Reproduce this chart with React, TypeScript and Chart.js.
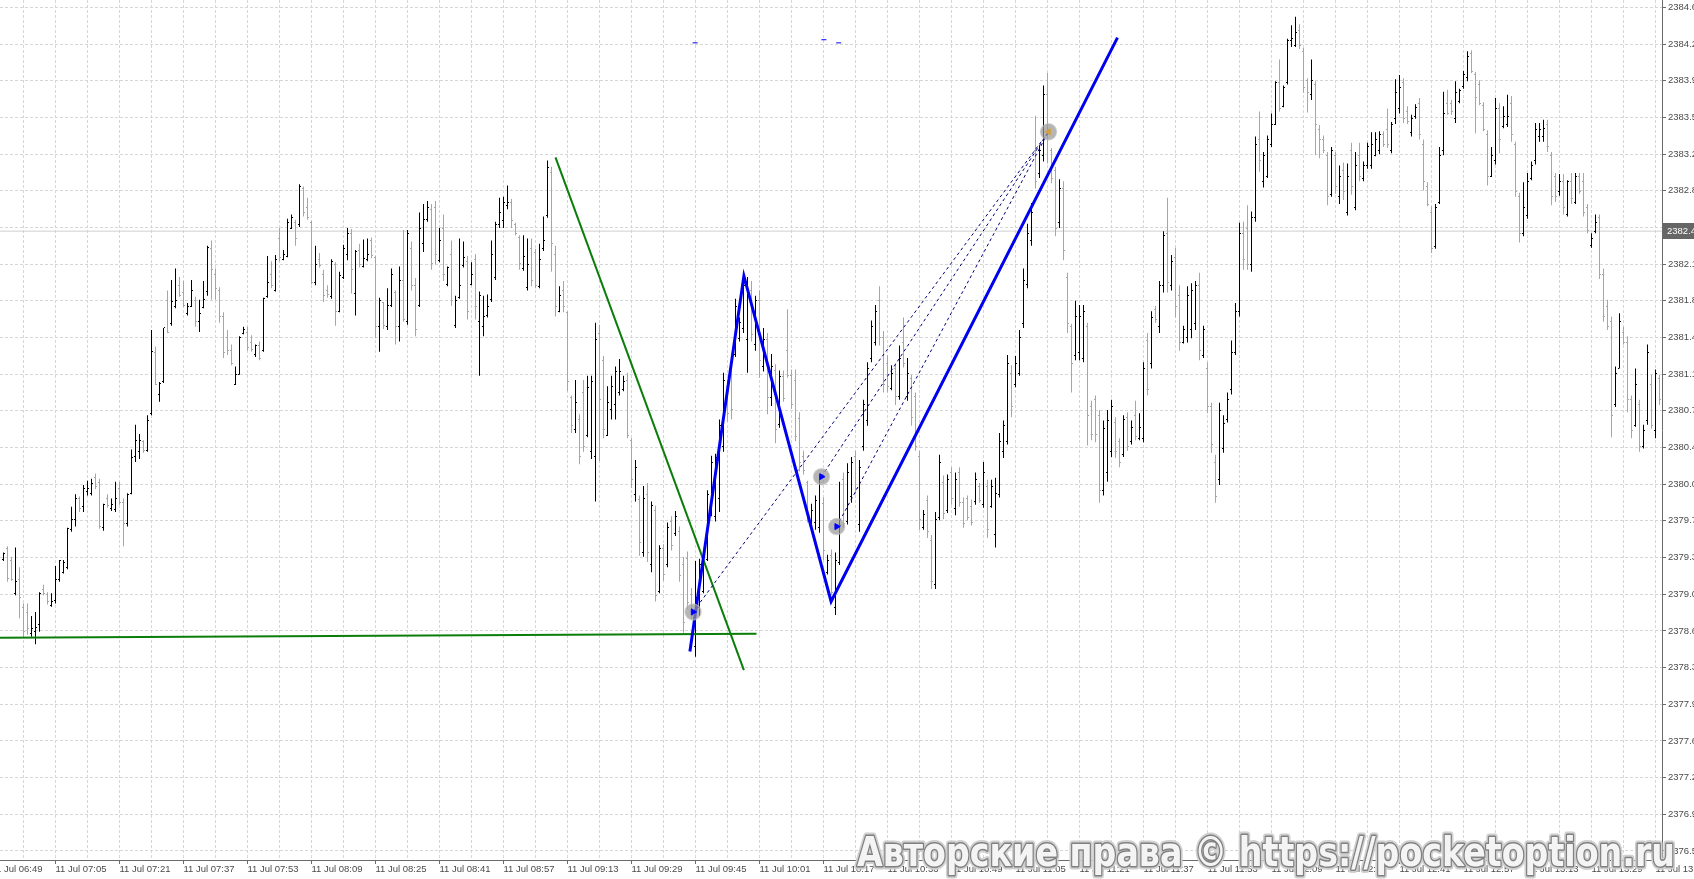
import React, { useEffect, useRef } from "react";
import { Chart, registerables } from "chart.js";

Chart.register(...registerables);

// minutes after 11 Jul 06:49 of the first bar
const FIRST_MINUTE = 3;

const OPEN = [
  2379.31, 2379.42, 2379.30, 2378.99, 2379.12, 2378.85, 2378.80, 2378.60, 2378.62, 2378.69,
  2379.03, 2378.98, 2378.87, 2378.92, 2379.12, 2379.19, 2379.24, 2379.60, 2379.70, 2379.90,
  2379.82, 2379.97, 2379.95, 2380.10, 2380.05, 2379.62, 2379.90, 2379.80, 2379.79, 2380.00,
  2379.86, 2379.66, 2379.95, 2380.30, 2380.35, 2380.45, 2380.36, 2380.72, 2381.30, 2380.90,
  2381.02, 2381.80, 2381.58, 2381.75, 2381.95, 2381.88, 2381.68, 2381.75, 2381.80, 2381.60,
  2381.74, 2381.89, 2382.30, 2382.05, 2381.90, 2381.65, 2381.45, 2381.32, 2381.00, 2381.09,
  2381.49, 2381.50, 2381.40, 2381.28, 2381.37, 2381.32, 2381.84, 2382.05, 2381.90, 2382.40,
  2382.20, 2382.23, 2382.50, 2382.55, 2382.53, 2382.88, 2382.70, 2382.55, 2381.98, 2382.20,
  2382.05, 2381.90, 2381.84, 2382.15, 2381.70, 2382.02, 2382.25, 2382.45, 2381.87, 2382.28,
  2382.13, 2382.20, 2382.38, 2382.22, 2381.55, 2381.78, 2381.55, 2381.76, 2381.88, 2381.55,
  2382.00, 2381.60, 2382.30, 2381.95, 2381.76, 2382.35, 2382.58, 2382.68, 2382.70, 2382.19,
  2382.50, 2381.96, 2382.25, 2381.56, 2381.83, 2382.14, 2382.18, 2381.96, 2382.20, 2381.60,
  2381.55, 2381.66, 2381.81, 2382.02, 2382.53, 2382.57, 2382.72, 2382.75, 2382.53, 2382.41,
  2382.11, 2381.93, 2382.30, 2382.26, 2381.94, 2382.30, 2382.62, 2383.03, 2382.25, 2381.70,
  2381.90, 2381.69, 2380.87, 2380.56, 2380.66, 2380.92, 2380.51, 2380.35, 2380.30, 2381.49,
  2381.23, 2380.51, 2380.76, 2380.80, 2380.92, 2380.95, 2381.03, 2380.46, 2379.94, 2379.89,
  2379.38, 2379.94, 2379.27, 2379.78, 2379.01, 2379.42, 2379.27, 2379.68, 2379.56, 2379.58,
  2379.27, 2379.32, 2378.98, 2378.48, 2378.85, 2379.01, 2379.31, 2379.79, 2379.73, 2379.90,
  2380.40, 2380.98, 2381.07, 2381.28, 2381.44, 2381.53, 2381.43, 2381.90, 2381.38, 2381.80,
  2381.17, 2381.43, 2380.87, 2381.13, 2380.61, 2381.07, 2381.32, 2381.08, 2381.03, 2380.67,
  2380.30, 2380.05, 2379.63, 2379.67, 2379.62, 2379.85, 2379.19, 2379.35, 2378.85, 2379.28,
  2380.08, 2379.68, 2379.92, 2380.30, 2379.65, 2380.40, 2380.65, 2381.25, 2381.40, 2381.80,
  2381.45, 2381.20, 2380.96, 2381.15, 2380.88, 2381.40, 2380.88, 2381.05, 2380.88, 2380.30,
  2379.62, 2379.88, 2379.50, 2379.07, 2379.72, 2380.05, 2379.78, 2380.15, 2379.80, 2380.15,
  2379.86, 2379.90, 2379.82, 2379.87, 2380.02, 2379.84, 2380.02, 2379.82, 2379.55, 2379.94,
  2380.35, 2380.45, 2381.10, 2381.00, 2381.10, 2381.58, 2381.96, 2382.38, 2383.25, 2383.02,
  2383.20, 2383.78, 2383.25, 2383.05, 2382.55, 2382.88, 2382.02, 2381.55, 2381.27, 2381.30,
  2381.25, 2381.55, 2380.78, 2380.85, 2380.70, 2379.98, 2380.15, 2380.35, 2380.63, 2380.45,
  2380.32, 2380.68, 2380.45, 2380.70, 2380.48, 2380.48, 2381.42, 2381.20, 2381.72, 2381.55,
  2381.95, 2382.45, 2381.95, 2382.22, 2381.85, 2381.40, 2381.45, 2381.52, 2381.58, 2381.95,
  2381.27, 2381.15, 2380.78, 2380.25, 2380.08, 2380.38, 2380.66, 2380.95, 2381.30, 2381.70,
  2382.45, 2382.50, 2382.15, 2382.60, 2383.35, 2382.95, 2383.00, 2383.30, 2383.50, 2383.90,
  2383.67, 2383.90, 2384.30, 2384.25, 2384.40, 2384.20, 2383.92, 2383.78, 2383.88, 2383.45,
  2383.35, 2383.20, 2382.82, 2383.20, 2382.80, 2383.05, 2382.65, 2383.25, 2382.70, 2383.20,
  2382.98, 2383.10, 2383.10, 2383.20, 2383.25, 2383.40, 2383.45, 2383.25, 2383.55, 2383.65,
  2383.90, 2383.62, 2383.42, 2383.57, 2383.70, 2383.30, 2382.90, 2382.65, 2382.32, 2382.75,
  2383.25, 2383.70, 2383.70, 2383.55, 2383.72, 2383.86, 2383.95, 2384.18, 2383.98, 2383.88,
  2383.68, 2383.40, 2383.00, 2383.15, 2383.65, 2383.48, 2383.50, 2383.70, 2383.30, 2382.80,
  2382.45, 2382.62, 2382.98, 2383.15, 2383.38, 2383.38, 2383.50, 2383.20, 2383.00, 2382.85,
  2382.95, 2382.63, 2382.95, 2382.75, 2383.00, 2382.95, 2382.70, 2382.33, 2382.47, 2382.60,
  2382.05, 2381.75, 2381.60, 2380.80, 2381.15, 2381.50, 2381.40, 2380.85, 2380.60, 2380.80,
  2380.40, 2380.65, 2381.00, 2380.55, 2381.05,
];

const HIGH = [
  2379.38, 2379.44, 2379.34, 2379.43, 2379.24, 2378.89, 2378.89, 2378.77, 2378.81, 2379.00,
  2379.07, 2379.00, 2378.99, 2379.25, 2379.31, 2379.31, 2379.62, 2379.82, 2379.94, 2379.92,
  2380.03, 2380.07, 2380.09, 2380.14, 2380.09, 2379.85, 2379.94, 2379.90, 2380.06, 2380.06,
  2379.90, 2379.95, 2380.37, 2380.61, 2380.52, 2380.46, 2380.70, 2381.52, 2381.36, 2381.02,
  2381.54, 2381.90, 2382.00, 2382.11, 2382.03, 2381.99, 2381.78, 2382.00, 2381.84, 2381.81,
  2381.99, 2382.33, 2382.38, 2382.11, 2381.93, 2381.69, 2381.52, 2381.38, 2381.17, 2381.46,
  2381.55, 2381.55, 2381.47, 2381.38, 2381.41, 2381.83, 2382.23, 2382.18, 2382.24, 2382.50,
  2382.29, 2382.59, 2382.63, 2382.58, 2382.92, 2382.90, 2382.79, 2382.57, 2382.33, 2382.26,
  2382.10, 2381.95, 2382.20, 2382.17, 2382.08, 2382.34, 2382.50, 2382.49, 2382.29, 2382.35,
  2382.39, 2382.40, 2382.41, 2382.23, 2381.83, 2381.79, 2381.92, 2382.11, 2381.90, 2382.13,
  2382.48, 2382.48, 2382.37, 2382.02, 2382.65, 2382.73, 2382.76, 2382.73, 2382.76, 2382.50,
  2382.63, 2382.13, 2382.38, 2381.85, 2382.40, 2382.37, 2382.23, 2382.17, 2382.25, 2381.89,
  2381.85, 2381.86, 2382.38, 2382.56, 2382.79, 2382.80, 2382.91, 2382.78, 2382.55, 2382.43,
  2382.43, 2382.40, 2382.40, 2382.30, 2382.35, 2382.61, 2383.15, 2383.09, 2382.33, 2381.94,
  2381.99, 2381.70, 2380.89, 2381.04, 2380.71, 2381.04, 2381.08, 2381.08, 2381.59, 2381.57,
  2381.27, 2380.98, 2381.08, 2381.17, 2381.24, 2381.08, 2381.11, 2380.48, 2380.27, 2379.93,
  2380.02, 2380.05, 2379.87, 2379.83, 2379.45, 2379.46, 2379.67, 2379.73, 2379.78, 2379.63,
  2379.34, 2379.39, 2379.04, 2379.30, 2379.32, 2379.32, 2379.98, 2380.31, 2380.33, 2380.66,
  2381.11, 2381.04, 2381.14, 2381.82, 2381.64, 2382.05, 2382.03, 2381.99, 2381.85, 2381.90,
  2381.54, 2381.49, 2381.29, 2381.19, 2381.13, 2381.13, 2381.72, 2381.14, 2381.14, 2380.73,
  2380.36, 2380.07, 2379.85, 2379.93, 2380.13, 2379.91, 2379.36, 2379.41, 2379.38, 2380.06,
  2380.15, 2380.24, 2380.30, 2380.36, 2380.27, 2380.85, 2381.21, 2381.61, 2381.76, 2381.94,
  2381.51, 2381.28, 2381.18, 2381.20, 2381.37, 2381.64, 2381.25, 2381.09, 2380.92, 2380.36,
  2379.79, 2379.93, 2379.55, 2379.77, 2380.32, 2380.12, 2380.13, 2380.20, 2380.15, 2380.20,
  2379.91, 2379.93, 2379.89, 2380.15, 2380.05, 2380.25, 2380.08, 2380.08, 2380.10, 2380.53,
  2380.65, 2381.28, 2381.18, 2381.27, 2381.52, 2382.11, 2382.54, 2382.74, 2383.58, 2383.29,
  2383.87, 2383.99, 2383.27, 2383.09, 2382.97, 2382.95, 2382.07, 2381.58, 2381.80, 2381.76,
  2381.76, 2381.59, 2380.84, 2380.89, 2380.75, 2380.65, 2380.75, 2380.85, 2380.68, 2380.48,
  2380.70, 2380.73, 2380.65, 2380.84, 2380.72, 2381.21, 2381.49, 2381.70, 2381.75, 2381.99,
  2382.47, 2382.79, 2382.24, 2382.31, 2381.95, 2381.56, 2381.94, 2381.97, 2381.99, 2382.07,
  2381.56, 2381.21, 2380.82, 2380.32, 2380.82, 2380.70, 2380.92, 2381.42, 2381.78, 2382.55,
  2382.56, 2382.72, 2382.66, 2383.38, 2383.62, 2383.23, 2383.39, 2383.60, 2383.91, 2384.12,
  2383.87, 2384.32, 2384.45, 2384.53, 2384.46, 2384.23, 2383.94, 2384.12, 2383.91, 2383.49,
  2383.39, 2383.23, 2383.28, 2383.23, 2383.10, 2383.13, 2383.12, 2383.32, 2383.23, 2383.32,
  2383.14, 2383.32, 2383.42, 2383.42, 2383.43, 2383.43, 2383.65, 2383.52, 2383.93, 2383.97,
  2383.94, 2383.67, 2383.59, 2383.69, 2383.75, 2383.35, 2382.94, 2382.71, 2382.73, 2383.28,
  2383.81, 2383.83, 2383.73, 2383.91, 2383.84, 2384.01, 2384.20, 2384.21, 2384.00, 2383.92,
  2383.71, 2383.44, 2383.28, 2383.75, 2383.70, 2383.67, 2383.78, 2383.77, 2383.33, 2382.84,
  2382.94, 2383.03, 2383.14, 2383.51, 2383.51, 2383.54, 2383.54, 2383.23, 2383.03, 2383.02,
  2383.02, 2382.96, 2383.03, 2383.03, 2383.03, 2383.03, 2382.73, 2382.45, 2382.63, 2382.63,
  2382.11, 2381.81, 2381.65, 2381.17, 2381.68, 2381.55, 2381.46, 2380.89, 2381.15, 2380.85,
  2380.61, 2381.38, 2381.09, 2381.14, 2381.09,
];

const LOW = [
  2379.30, 2379.10, 2379.11, 2378.97, 2378.75, 2378.56, 2378.59, 2378.57, 2378.50, 2378.62,
  2378.97, 2378.88, 2378.86, 2378.89, 2379.10, 2379.18, 2379.22, 2379.58, 2379.63, 2379.77,
  2379.77, 2379.93, 2379.93, 2379.99, 2379.61, 2379.59, 2379.81, 2379.78, 2379.77, 2379.84,
  2379.44, 2379.63, 2379.94, 2380.25, 2380.28, 2380.34, 2380.35, 2380.70, 2380.99, 2380.83,
  2381.01, 2381.49, 2381.56, 2381.73, 2381.84, 2381.74, 2381.66, 2381.74, 2381.55, 2381.50,
  2381.73, 2381.85, 2381.81, 2381.81, 2381.59, 2381.25, 2381.28, 2381.18, 2380.99, 2381.09,
  2381.48, 2381.32, 2381.31, 2381.26, 2381.23, 2381.31, 2381.83, 2381.92, 2381.89, 2382.18,
  2382.19, 2382.22, 2382.49, 2382.33, 2382.51, 2382.61, 2382.58, 2381.96, 2381.95, 2382.12,
  2381.79, 2381.83, 2381.82, 2381.56, 2381.69, 2382.01, 2382.19, 2381.87, 2381.66, 2382.12,
  2382.12, 2382.18, 2382.21, 2381.44, 2381.31, 2381.53, 2381.52, 2381.74, 2381.38, 2381.41,
  2381.60, 2381.57, 2381.90, 2381.46, 2381.74, 2382.27, 2382.56, 2382.10, 2382.15, 2382.17,
  2381.99, 2381.94, 2381.75, 2381.54, 2381.82, 2382.12, 2381.62, 2381.95, 2381.62, 2381.08,
  2381.46, 2381.64, 2381.79, 2382.00, 2382.50, 2382.50, 2382.68, 2382.50, 2382.43, 2382.10,
  2382.09, 2381.90, 2381.94, 2381.92, 2381.92, 2382.28, 2382.60, 2382.08, 2381.65, 2381.69,
  2381.69, 2380.93, 2380.53, 2380.53, 2380.23, 2380.35, 2380.49, 2380.28, 2379.87, 2380.26,
  2380.48, 2380.50, 2380.66, 2380.66, 2380.89, 2380.93, 2380.48, 2380.00, 2379.87, 2379.35,
  2379.34, 2379.29, 2379.19, 2378.91, 2378.99, 2379.11, 2379.24, 2379.40, 2379.54, 2379.10,
  2378.61, 2378.84, 2378.74, 2378.38, 2378.77, 2378.99, 2379.30, 2379.73, 2379.68, 2379.77,
  2380.35, 2380.64, 2380.66, 2381.26, 2381.41, 2381.49, 2381.11, 2381.41, 2381.32, 2381.06,
  2381.12, 2380.71, 2380.79, 2380.43, 2380.58, 2380.83, 2381.06, 2380.76, 2380.45, 2380.16,
  2380.13, 2379.67, 2379.59, 2379.60, 2379.57, 2379.31, 2379.17, 2378.97, 2378.78, 2379.26,
  2379.62, 2379.65, 2379.86, 2379.94, 2379.58, 2380.36, 2380.60, 2381.21, 2381.37, 2381.37,
  2380.92, 2380.92, 2380.94, 2380.80, 2380.85, 2381.16, 2380.84, 2380.60, 2380.36, 2379.60,
  2379.60, 2379.52, 2379.03, 2379.03, 2379.69, 2379.70, 2379.76, 2379.84, 2379.74, 2379.82,
  2379.62, 2379.69, 2379.64, 2379.84, 2379.86, 2379.81, 2379.52, 2379.81, 2379.43, 2379.91,
  2380.29, 2380.42, 2380.68, 2380.97, 2381.08, 2381.54, 2381.92, 2382.33, 2382.88, 2382.98,
  2383.14, 2383.12, 2382.93, 2382.42, 2382.50, 2382.19, 2381.49, 2380.92, 2381.23, 2381.23,
  2381.21, 2380.41, 2380.46, 2380.44, 2379.86, 2379.93, 2380.06, 2380.30, 2380.29, 2380.20,
  2380.30, 2380.36, 2380.42, 2380.46, 2380.46, 2380.44, 2380.89, 2381.15, 2381.59, 2381.49,
  2381.88, 2381.88, 2381.90, 2381.64, 2381.32, 2381.39, 2381.40, 2381.44, 2381.52, 2381.23,
  2381.25, 2380.72, 2380.34, 2379.86, 2380.03, 2380.34, 2380.63, 2380.90, 2381.28, 2381.65,
  2382.10, 2382.10, 2382.08, 2382.56, 2383.04, 2382.89, 2382.98, 2383.28, 2383.49, 2383.62,
  2383.66, 2383.88, 2384.24, 2384.24, 2384.22, 2383.80, 2383.61, 2383.73, 2383.20, 2383.17,
  2383.22, 2382.72, 2382.80, 2382.83, 2382.73, 2382.77, 2382.62, 2382.82, 2382.67, 2382.95,
  2382.95, 2383.07, 2383.07, 2383.19, 2383.21, 2383.28, 2383.27, 2383.22, 2383.50, 2383.60,
  2383.51, 2383.50, 2383.38, 2383.55, 2383.35, 2382.86, 2382.71, 2382.26, 2382.30, 2382.73,
  2383.20, 2383.59, 2383.59, 2383.51, 2383.70, 2383.84, 2383.91, 2383.99, 2383.41, 2383.68,
  2383.43, 2382.91, 2382.99, 2383.11, 2383.22, 2383.46, 2383.47, 2383.33, 2382.80, 2382.36,
  2382.42, 2382.59, 2382.96, 2383.11, 2383.33, 2383.33, 2383.23, 2382.72, 2382.75, 2382.81,
  2382.63, 2382.61, 2382.73, 2382.73, 2382.83, 2382.61, 2382.45, 2382.31, 2382.45, 2382.01,
  2381.60, 2381.52, 2380.49, 2380.78, 2381.15, 2381.38, 2380.73, 2380.48, 2380.59, 2380.35,
  2380.38, 2380.61, 2380.57, 2380.48, 2380.80,
];

const CLOSE = [
  2379.37, 2379.13, 2379.12, 2379.10, 2378.95, 2378.62, 2378.65, 2378.65, 2378.66, 2378.99,
  2378.99, 2378.91, 2378.91, 2379.12, 2379.30, 2379.28, 2379.61, 2379.70, 2379.90, 2379.80,
  2380.00, 2380.00, 2380.04, 2380.02, 2379.63, 2379.84, 2379.83, 2379.84, 2379.90, 2379.86,
  2379.66, 2379.94, 2380.29, 2380.46, 2380.46, 2380.36, 2380.65, 2381.31, 2381.00, 2381.01,
  2381.54, 2381.50, 2381.79, 2381.80, 2381.85, 2381.76, 2381.75, 2381.90, 2381.60, 2381.68,
  2381.81, 2382.31, 2382.10, 2381.92, 2381.65, 2381.30, 2381.32, 2381.20, 2381.09, 2381.45,
  2381.52, 2381.35, 2381.33, 2381.37, 2381.25, 2381.82, 2381.98, 2381.95, 2382.20, 2382.22,
  2382.25, 2382.55, 2382.60, 2382.40, 2382.90, 2382.65, 2382.60, 2381.98, 2382.15, 2382.14,
  2381.85, 2381.86, 2382.18, 2381.70, 2382.04, 2382.30, 2382.45, 2382.10, 2382.27, 2382.15,
  2382.21, 2382.25, 2382.24, 2381.55, 2381.80, 2381.56, 2381.76, 2382.05, 2381.55, 2382.00,
  2381.62, 2382.45, 2381.95, 2381.52, 2382.50, 2382.58, 2382.70, 2382.16, 2382.25, 2382.38,
  2382.05, 2382.12, 2381.80, 2381.80, 2381.95, 2382.22, 2381.70, 2382.05, 2381.75, 2381.85,
  2381.65, 2381.75, 2382.25, 2382.53, 2382.65, 2382.75, 2382.75, 2382.57, 2382.45, 2382.16,
  2382.23, 2382.15, 2382.00, 2381.95, 2382.20, 2382.38, 2383.08, 2382.35, 2381.75, 2381.85,
  2381.75, 2381.02, 2380.60, 2380.82, 2380.30, 2380.40, 2380.97, 2381.02, 2381.43, 2380.85,
  2380.56, 2380.82, 2380.98, 2381.12, 2381.12, 2381.02, 2380.51, 2380.08, 2380.20, 2379.48,
  2379.90, 2379.38, 2379.83, 2378.97, 2379.42, 2379.17, 2379.62, 2379.45, 2379.73, 2379.16,
  2378.71, 2378.90, 2378.78, 2378.95, 2379.27, 2379.29, 2379.94, 2380.25, 2380.29, 2380.60,
  2381.03, 2380.72, 2380.76, 2381.75, 2381.59, 2381.95, 2381.90, 2381.48, 2381.80, 2381.23,
  2381.43, 2380.87, 2381.17, 2380.56, 2381.07, 2380.86, 2381.08, 2380.80, 2380.50, 2380.25,
  2380.17, 2379.73, 2379.78, 2379.88, 2380.09, 2379.40, 2379.30, 2379.00, 2379.30, 2379.64,
  2379.66, 2380.15, 2380.25, 2380.00, 2380.20, 2380.80, 2381.15, 2381.55, 2381.70, 2381.45,
  2381.00, 2380.98, 2381.10, 2380.88, 2381.25, 2381.20, 2381.10, 2380.68, 2380.40, 2379.70,
  2379.75, 2379.58, 2379.10, 2379.70, 2380.25, 2379.76, 2380.08, 2379.90, 2380.08, 2379.86,
  2379.66, 2379.72, 2379.67, 2380.08, 2379.88, 2380.15, 2379.60, 2380.02, 2379.95, 2380.45,
  2380.60, 2381.20, 2380.78, 2381.20, 2381.45, 2382.00, 2382.45, 2382.65, 2382.95, 2383.25,
  2383.78, 2383.45, 2382.98, 2382.50, 2382.88, 2382.28, 2381.58, 2381.20, 2381.65, 2381.65,
  2381.70, 2380.70, 2380.52, 2380.52, 2379.98, 2380.57, 2380.65, 2380.78, 2380.35, 2380.25,
  2380.66, 2380.40, 2380.58, 2380.50, 2380.58, 2381.15, 2380.95, 2381.64, 2381.62, 2381.95,
  2382.43, 2381.98, 2382.18, 2381.75, 2381.40, 2381.52, 2381.85, 2381.90, 2381.95, 2381.32,
  2381.52, 2380.78, 2380.42, 2379.92, 2380.75, 2380.62, 2380.85, 2381.30, 2381.70, 2382.45,
  2382.20, 2382.15, 2382.60, 2383.30, 2383.15, 2383.20, 2383.35, 2383.50, 2383.90, 2383.65,
  2383.85, 2384.30, 2384.32, 2384.38, 2384.25, 2383.85, 2383.80, 2383.92, 2383.50, 2383.35,
  2383.25, 2382.80, 2383.25, 2382.90, 2383.00, 2382.85, 2383.00, 2382.90, 2383.10, 2383.00,
  2383.10, 2383.28, 2383.30, 2383.35, 2383.40, 2383.30, 2383.30, 2383.50, 2383.80, 2383.85,
  2383.55, 2383.52, 2383.55, 2383.66, 2383.40, 2382.95, 2382.73, 2382.30, 2382.70, 2383.20,
  2383.60, 2383.60, 2383.62, 2383.80, 2383.82, 2383.98, 2384.15, 2384.00, 2383.75, 2383.70,
  2383.45, 2383.00, 2383.20, 2383.65, 2383.35, 2383.57, 2383.57, 2383.40, 2382.85, 2382.45,
  2382.70, 2382.95, 2383.10, 2383.45, 2383.45, 2383.46, 2383.28, 2382.80, 2382.80, 2382.95,
  2382.70, 2382.95, 2382.78, 2383.00, 2382.85, 2382.65, 2382.48, 2382.40, 2382.55, 2382.05,
  2381.65, 2381.55, 2380.70, 2381.10, 2381.60, 2381.40, 2380.85, 2380.55, 2381.00, 2380.40,
  2380.55, 2381.30, 2380.60, 2381.10, 2380.85,
];

// time labels, one every 16 minutes starting at 06:49 (minute 0)
const X_LABELS = [
  "11 Jul 06:49", "11 Jul 07:05", "11 Jul 07:21", "11 Jul 07:37", "11 Jul 07:53",
  "11 Jul 08:09", "11 Jul 08:25", "11 Jul 08:41", "11 Jul 08:57", "11 Jul 09:13",
  "11 Jul 09:29", "11 Jul 09:45", "11 Jul 10:01", "11 Jul 10:17", "11 Jul 10:33",
  "11 Jul 10:49", "11 Jul 11:05", "11 Jul 11:21", "11 Jul 11:37", "11 Jul 11:53",
  "11 Jul 12:09", "11 Jul 12:25", "11 Jul 12:41", "11 Jul 12:57", "11 Jul 13:13",
  "11 Jul 13:29", "11 Jul 13:45",
];

const Y_TICKS = [
  2384.62, 2384.2675, 2383.915, 2383.5625, 2383.21, 2382.8575, 2382.505, 2382.1525,
  2381.8, 2381.4475, 2381.095, 2380.7425, 2380.39, 2380.0375, 2379.685, 2379.3325,
  2378.98, 2378.6275, 2378.275, 2377.9225, 2377.57, 2377.2175, 2376.865, 2376.5125,
];
const Y_LABELS = [
  "2384.6", "2384.2", "2383.9", "2383.5", "2383.2", "2382.8", "2382.5", "2382.1",
  "2381.8", "2381.4", "2381.1", "2380.7", "2380.4", "2380.0", "2379.7", "2379.3",
  "2379.0", "2378.6", "2378.3", "2377.9", "2377.6", "2377.2", "2376.9", "2376.5",
];

const CURRENT_PRICE = 2382.47;
const CURRENT_LABEL = "2382.4";

// [minute, price]
const GREEN_SUPPORT = [[0, 2378.56], [191.25, 2378.6]];
const GREEN_TREND = [[141, 2383.18], [188.1, 2378.25]];
const ZIGZAG = [[174.6, 2378.43], [188.1, 2382.04], [209.9, 2378.91], [281.5, 2384.33]];
const ENTRIES = [[175.4, 2378.81], [207.5, 2380.11], [211.3, 2379.63]];
const EXIT = [264.25, 2383.425];
const TOP_MARKS = [[175.9, 2384.28], [208.1, 2384.31], [211.8, 2384.28]];

const WATERMARK = "Авторские права © https://pocketoption.ru";

const X_MIN = 2.125;
const X_MAX = 417.625;
const Y_MIN = 2376.425;
const Y_MAX = 2384.692;

const BULL = "#000000";
const BEAR = "#a6a6a6";
const GRID = "#d6d6d6";
const AXIS = "#6a6a6a";
const TEXT = "#4a4a4a";
const FONT = '"Liberation Sans", Arial, sans-serif';

const pts = (arr: number[][]) => arr.map(([x, y]) => ({ x, y }));

const ohlcTicks = {
  id: "ohlcTicks",
  afterDatasetDraw(chart: any, args: any) {
    if (args.index !== 0) return;
    const { ctx, chartArea } = chart;
    const xs = chart.scales.x;
    const ys = chart.scales.y;
    ctx.save();
    ctx.beginPath();
    ctx.rect(chartArea.left, chartArea.top, chartArea.right - chartArea.left, chartArea.bottom - chartArea.top);
    ctx.clip();
    for (let i = 0; i < OPEN.length; i++) {
      const col = Math.round(xs.getPixelForValue(FIRST_MINUTE + i) - 0.5);
      ctx.fillStyle = CLOSE[i] >= OPEN[i] ? BULL : BEAR;
      ctx.fillRect(col - 1, Math.round(ys.getPixelForValue(OPEN[i]) - 0.5), 1, 1);
      ctx.fillRect(col + 1, Math.round(ys.getPixelForValue(CLOSE[i]) - 0.5), 1, 1);
    }
    ctx.restore();
  },
};

const overlay = {
  id: "overlay",
  afterDraw(chart: any) {
    const { ctx, chartArea } = chart;
    const ys = chart.scales.y;
    // current price tag
    const py = Math.round(ys.getPixelForValue(CURRENT_PRICE));
    ctx.save();
    ctx.fillStyle = "#666666";
    ctx.fillRect(chartArea.right + 1, py - 8, 40, 16);
    ctx.fillStyle = "#ffffff";
    ctx.font = `9.5px ${FONT}`;
    ctx.textBaseline = "middle";
    ctx.textAlign = "left";
    ctx.fillText(CURRENT_LABEL, chartArea.right + 5, py + 0.5);
    ctx.restore();

    // watermark
    ctx.save();
    ctx.font = 'bold 41px "DejaVu Sans", sans-serif';
    const w = ctx.measureText(WATERMARK).width;
    ctx.translate(857, 866);
    ctx.scale(818 / w, 1);
    ctx.lineJoin = "round";
    ctx.textBaseline = "alphabetic";
    ctx.strokeStyle = "rgba(205,205,205,0.95)";
    ctx.lineWidth = 7;
    ctx.strokeText(WATERMARK, 0, 0);
    ctx.strokeStyle = "#808080";
    ctx.lineWidth = 3;
    ctx.strokeText(WATERMARK, 0, 0);
    ctx.fillStyle = "#f4f4f4";
    ctx.fillText(WATERMARK, 0, 0);
    ctx.restore();
  },
};

export default function App() {
  const ref = useRef<HTMLCanvasElement | null>(null);

  useEffect(() => {
    document.body.style.margin = "0";
    document.body.style.overflow = "hidden";
    const canvas = ref.current;
    if (!canvas) return;

    const bars = HIGH.map((h, i) => ({ x: FIRST_MINUTE + i, y: [LOW[i], h] }));
    const barColors = OPEN.map((o, i) => (CLOSE[i] >= o ? BULL : BEAR));

    const lineDs = (data: number[][], color: string, width: number, order: number, dash: number[] = []) => ({
      type: "line" as const,
      data: pts(data),
      borderColor: color,
      borderWidth: width,
      borderDash: dash,
      pointRadius: 0,
      tension: 0,
      fill: false,
      order,
    });

    const chart = new Chart(canvas, {
      type: "bar",
      data: {
        datasets: [
          {
            type: "bar",
            data: bars as any,
            backgroundColor: barColors,
            borderWidth: 0,
            barThickness: 1,
            inflateAmount: 0,
            grouped: false,
            order: 10,
          } as any,
          lineDs([[0, CURRENT_PRICE], [420, CURRENT_PRICE]], "#cfcfcf", 1, 20),
          lineDs(GREEN_SUPPORT, "#0b7d0b", 2, 3),
          lineDs(GREEN_TREND, "#0b7d0b", 2, 3),
          ...ENTRIES.map((e) => lineDs([e, EXIT], "#00007a", 1, 2, [3, 3])),
          lineDs(ZIGZAG, "#0000f0", 3, 1),
          {
            type: "line",
            data: pts([...ENTRIES, EXIT]),
            showLine: false,
            pointRadius: 8,
            pointStyle: "circle",
            pointBackgroundColor: "rgba(150,150,150,0.7)",
            pointBorderColor: "rgba(190,190,190,0.6)",
            pointBorderWidth: 1.5,
            order: 0.5,
          } as any,
          {
            type: "line",
            data: pts(ENTRIES),
            showLine: false,
            pointRadius: 3.5,
            pointStyle: "triangle",
            rotation: 90,
            pointBackgroundColor: "#0000ff",
            pointBorderColor: "#0000ff",
            pointBorderWidth: 1,
            order: 0,
          } as any,
          {
            type: "line",
            data: pts([EXIT]),
            showLine: false,
            pointRadius: 3.5,
            pointStyle: "triangle",
            rotation: -90,
            pointBackgroundColor: "#d2a23c",
            pointBorderColor: "#d2a23c",
            pointBorderWidth: 1,
            order: 0,
          } as any,
          {
            type: "line",
            data: pts(TOP_MARKS),
            showLine: false,
            pointRadius: 2.5,
            pointStyle: "line",
            pointBorderColor: "#0000ff",
            pointBorderWidth: 1,
            order: 0,
          } as any,
        ],
      },
      options: {
        responsive: false,
        animation: false,
        events: [],
        layout: { padding: 0, autoPadding: false },
        plugins: { legend: { display: false }, tooltip: { enabled: false } },
        scales: {
          x: {
            type: "linear",
            position: "bottom",
            min: X_MIN,
            max: X_MAX,
            offset: false,
            afterBuildTicks: (scale: any) => {
              const t = [];
              for (let k = 0; k < X_LABELS.length * 2 - 1; k++) t.push({ value: k * 8 });
              scale.ticks = t;
            },
            afterFit: (scale: any) => {
              scale.height = 19;
              scale.paddingLeft = 0;
              scale.paddingRight = 0;
            },
            ticks: {
              autoSkip: false,
              maxRotation: 0,
              minRotation: 0,
              align: "start",
              padding: 0,
              color: TEXT,
              font: { family: FONT, size: 9.5 },
              callback: (v: any) => (Number(v) % 16 === 0 ? X_LABELS[Number(v) / 16] : ""),
            },
            grid: {
              offset: false,
              color: GRID,
              lineWidth: 1,
              tickLength: 4,
              tickColor: (c: any) => (c.tick && c.tick.value % 16 === 0 ? AXIS : "rgba(0,0,0,0)"),
            },
            border: { display: true, color: AXIS, width: 1, dash: [3, 2] },
          } as any,
          y: {
            type: "linear",
            position: "right",
            min: Y_MIN,
            max: Y_MAX,
            beginAtZero: false,
            afterBuildTicks: (scale: any) => {
              scale.ticks = Y_TICKS.map((v) => ({ value: v }));
            },
            afterFit: (scale: any) => {
              scale.width = 32;
              scale.paddingTop = 0;
              scale.paddingBottom = 0;
            },
            ticks: {
              autoSkip: false,
              padding: 2,
              color: TEXT,
              font: { family: FONT, size: 9.5 },
              callback: (_v: any, i: number) => Y_LABELS[i],
            },
            grid: { color: GRID, lineWidth: 1, tickLength: 4, tickColor: AXIS },
            border: { display: true, color: AXIS, width: 1, dash: [3, 2] },
          } as any,
        },
      },
      plugins: [ohlcTicks, overlay],
    });

    return () => chart.destroy();
  }, []);

  return (
    <div style={{ width: 1694, height: 879, background: "#ffffff" }}>
      <canvas ref={ref} width={1694} height={879} style={{ display: "block" }} />
    </div>
  );
}
